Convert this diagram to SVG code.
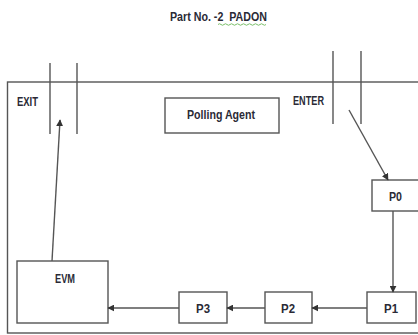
<svg xmlns="http://www.w3.org/2000/svg" width="418" height="335" viewBox="0 0 418 335">
<style>
.ln{stroke:#555;stroke-width:1.4;fill:none}
.box{stroke:#555;stroke-width:1.4;fill:#fff}
.t{font-family:"Liberation Sans",Arial,sans-serif;font-weight:bold;font-size:13px;fill:#2a2a36}
</style>
<defs>
<marker id="ah" viewBox="0 0 10 10" refX="9" refY="5" markerWidth="7" markerHeight="7" orient="auto" markerUnits="userSpaceOnUse">
<path d="M0,0 L10,5 L0,10 z" fill="#333"/>
</marker>
</defs>
<rect width="418" height="335" fill="#fff"/>
<text class="t" x="170" y="21" font-size="14" textLength="97" lengthAdjust="spacingAndGlyphs" xml:space="preserve">Part No. -2  PADON</text>
<path d="M218,24.5 q1.5,-1.5 3,0 t3,0 t3,0 t3,0 t3,0 t3,0 t3,0 t3,0 t3,0 t3,0 t3,0 t3,0 t3,0 t3,0 t3,0 t3,0" stroke="#7bbf6a" stroke-width="1" fill="none"/>
<g id="frame">
<rect x="7.5" y="82" width="420" height="251" class="ln"/>
</g>
<g id="exit">
<line x1="50" y1="63" x2="50" y2="134" class="ln"/>
<line x1="77" y1="63" x2="77" y2="134" class="ln"/>
<text class="t" x="17" y="106" textLength="21" lengthAdjust="spacingAndGlyphs">EXIT</text>
</g>
<g id="enter">
<line x1="333" y1="51" x2="333" y2="124" class="ln"/>
<line x1="361" y1="51" x2="361" y2="124" class="ln"/>
<text class="t" x="293" y="105" textLength="31" lengthAdjust="spacingAndGlyphs">ENTER</text>
</g>
<g id="polling-agent">
<rect x="165" y="98" width="114" height="35" class="box"/>
<text class="t" x="187" y="119" font-size="14" textLength="68" lengthAdjust="spacingAndGlyphs">Polling Agent</text>
</g>
<g id="p0">
<rect x="372" y="180" width="50" height="31" class="box"/>
<text class="t" x="389" y="201" textLength="13" lengthAdjust="spacingAndGlyphs">P0</text>
</g>
<g id="p1">
<rect x="367" y="292" width="49" height="31" class="box"/>
<text class="t" x="384" y="313" textLength="14" lengthAdjust="spacingAndGlyphs">P1</text>
</g>
<g id="p2">
<rect x="265" y="292" width="47" height="31" class="box"/>
<text class="t" x="281" y="313" textLength="14" lengthAdjust="spacingAndGlyphs">P2</text>
</g>
<g id="p3">
<rect x="179" y="292" width="48" height="31" class="box"/>
<text class="t" x="196" y="313" textLength="14" lengthAdjust="spacingAndGlyphs">P3</text>
</g>
<g id="evm">
<rect x="17" y="261" width="91" height="62" class="box"/>
<text class="t" x="55" y="283" textLength="20" lengthAdjust="spacingAndGlyphs">EVM</text>
</g>
<g id="connectors">
<line x1="349" y1="110" x2="388" y2="180" class="ln" marker-end="url(#ah)"/>
<line x1="393" y1="211" x2="393" y2="292" class="ln" marker-end="url(#ah)"/>
<line x1="367" y1="308" x2="312" y2="308" class="ln" marker-end="url(#ah)"/>
<line x1="265" y1="308" x2="227" y2="308" class="ln" marker-end="url(#ah)"/>
<line x1="179" y1="308" x2="108" y2="308" class="ln" marker-end="url(#ah)"/>
<line x1="52" y1="261" x2="60" y2="120" class="ln" marker-end="url(#ah)"/>
</g>
</svg>
